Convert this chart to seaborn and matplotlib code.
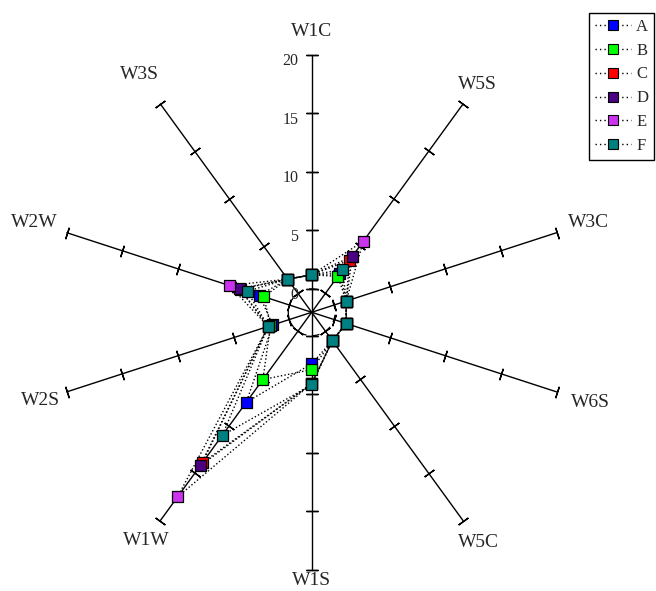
import numpy as np
import pandas as pd
import matplotlib
matplotlib.use("Agg")
import matplotlib.pyplot as plt
from matplotlib.lines import Line2D
import seaborn as sns

# Spokes, clockwise from the top
spokes = ["W1C", "W5S", "W3C", "W6S", "W5C", "W1S", "W1W", "W2S", "W2W", "W3S"]
series_names = ["A", "B", "C", "D", "E", "F"]
series_colors = ["#0000FF", "#00FF00", "#FF0000", "#4B0082", "#CC33EE", "#008080"]

A = [1.2, 2.1, 1.1, 1.1, 1.0, 2.4, 7.5, 1.5, 2.7, 1.5]
B = [1.2, 1.8, 1.1, 1.1, 1.0, 2.9, 5.1, 1.7, 2.3, 1.5]
C = [1.2, 3.5, 1.1, 1.1, 1.0, 4.1, 13.9, 1.9, 4.4, 1.5]
D = [1.2, 3.9, 1.1, 1.1, 1.0, 4.1, 14.2, 1.9, 4.5, 1.5]
E = [1.2, 5.5, 1.1, 1.1, 1.0, 4.1, 17.5, 1.9, 5.4, 1.5]
F = [1.2, 2.5, 1.1, 1.1, 1.0, 4.2, 11.0, 1.9, 3.8, 1.5]

r_ticks = [0, 5, 10, 15, 20]
r_min, r_max = -2, 20

# radius (data units) at which each spoke name is centred
label_radius = {"W1C": 22.0, "W5S": 22.1, "W3C": 22.9, "W6S": 23.0, "W5C": 22.3,
                "W1S": 20.9, "W1W": 22.1, "W2S": 22.4, "W2W": 22.9, "W3S": 23.1}

sns.set_style("white")
plt.rcParams["font.family"] = ["Liberation Serif", "DejaVu Serif"]

n = len(spokes)
theta = np.arange(n) * 2 * np.pi / n

values = dict(zip(series_names, [A, B, C, D, E, F]))
palette = dict(zip(series_names, series_colors))

pts = pd.DataFrame([
    {"series": s, "theta": theta[i], "r": values[s][i]}
    for s in series_names for i in range(n)
])
# closed polygons for the connecting lines
closed = pd.DataFrame([
    {"series": s, "theta": (theta[i] if i < n else 2 * np.pi), "r": values[s][i % n]}
    for s in series_names for i in range(n + 1)
])

fig = plt.figure(figsize=(6.56, 5.91), dpi=100)
ax = fig.add_axes([0.0826, 0.0359, 0.7851, 0.8714], projection="polar")
ax.set_theta_offset(np.pi / 2)
ax.set_theta_direction(-1)
ax.set_ylim(r_min, r_max)
ax.grid(False)
ax.set_xticks([])
ax.set_yticks([])
ax.spines["polar"].set_visible(False)
ax.patch.set_alpha(0)

# spokes with perpendicular tick marks
for th in theta:
    ax.plot([th, th], [r_min, r_max], color="black", lw=1.0, clip_on=False, zorder=1)
    phi = 90 - np.degrees(th)
    ax.plot([th] * len(r_ticks), r_ticks, ls="none", marker=(2, 2, phi), ms=8.6,
            mec="black", mew=1.0, clip_on=False, zorder=1)

# dashed zero ring
ring = np.linspace(0, 2 * np.pi, 361)
ax.plot(ring, np.zeros_like(ring), color="black", lw=0.9, ls=(0, (6, 4.5)), zorder=1)

# dotted polygons
sns.lineplot(data=closed, x="theta", y="r", units="series", estimator=None, sort=False,
             color="black", lw=1.0, ls=(0, (1, 1.6)), ax=ax, zorder=2)

# square markers, F drawn last
sns.scatterplot(data=pts, x="theta", y="r", hue="series", palette=palette, marker="s",
                s=64, edgecolor="black", linewidth=0.9, legend=False, ax=ax, zorder=3)
ax.set_xlabel("")
ax.set_ylabel("")
ax.set_ylim(r_min, r_max)

# radial tick labels on the top spoke
for v in r_ticks:
    ax.annotate(str(v), xy=(0, v), xytext=(-9.5, 1), textcoords="offset points",
                ha="right", va="top", fontsize=11.5, annotation_clip=False)

# spoke names
for th, name in zip(theta, spokes):
    ax.annotate(name, xy=(th, label_radius[name]), ha="center", va="center",
                fontsize=14, annotation_clip=False)

handles = [Line2D([0], [0], color="black", lw=1.0, ls=(0, (1, 2.2)), marker="s", ms=7,
                  mfc=c, mec="black", mew=0.8) for c in series_colors]
leg = fig.legend(handles, series_names, loc="upper right",
                 bbox_to_anchor=(654 / 656, 1 - 13 / 591), frameon=True, fancybox=False,
                 edgecolor="black", framealpha=1, fontsize=12, handlelength=2.2,
                 handletextpad=0.3, labelspacing=0.47, borderpad=0.35, borderaxespad=0)
leg.get_frame().set_linewidth(1.0)

fig.savefig("out.png", dpi=100)
